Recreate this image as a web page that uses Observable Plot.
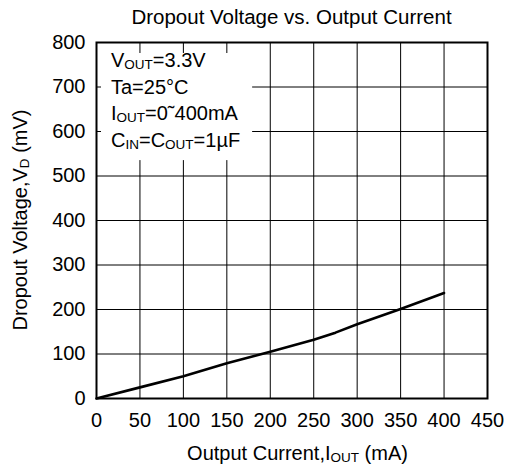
<!DOCTYPE html>
<html>
<head>
<meta charset="utf-8">
<script src="https://cdn.jsdelivr.net/npm/d3@7"></script>
<script src="https://cdn.jsdelivr.net/npm/@observablehq/plot@0.6"></script>
<style>
  html, body { margin: 0; padding: 0; background: #fff; }
  svg text { font-family: "Liberation Sans", Arial, Helvetica, sans-serif; }
</style>
</head>
<body>
<div id="chart"></div>
<script>
// Dropout voltage (mV) measured against output current (mA)
const currentMA = [0, 50, 100, 150, 200, 250, 275, 300, 350, 400];
const dropoutMV = [0, 25, 50, 79, 105, 132, 148, 167, 201, 237];

// Axis ticks
const xTicks = [0, 50, 100, 150, 200, 250, 300, 350, 400, 450];
const yTicks = [0, 100, 200, 300, 400, 500, 600, 700, 800];

// Texts; each part is [text, isSubscript]
const titleText = "Dropout Voltage vs. Output Current";
const xLabelParts = [["Output Current,I", false], ["OUT", true], [" (mA)", false]];
const yLabelParts = [["Dropout Voltage,V", false], ["D", true], [" (mV)", false]];
const conditionLines = [
  [["V", false], ["OUT", true], ["=3.3V", false]],
  [["Ta=25°C", false]],
  [["I", false], ["OUT", true], ["=0˜400mA", false]],
  [["C", false], ["IN", true], ["=C", false], ["OUT", true], ["=1µF", false]]
];

const points = currentMA.map((c, i) => ({current: c, dropout: dropoutMV[i]}));

const FONT = 20;
const SUB = 13.5;

const plot = Plot.plot({
  width: 505,
  height: 472,
  marginLeft: 96,
  marginRight: 18,
  marginTop: 42,
  marginBottom: 74,
  style: {fontSize: FONT + "px", color: "#000", background: "#fff", overflow: "visible"},
  x: {domain: [0, 450]},
  y: {domain: [0, 800]},
  marks: [
    Plot.gridX(xTicks.slice(1, -1), {stroke: "#000", strokeOpacity: 1, strokeWidth: 1}),
    Plot.gridY(yTicks.slice(1, -1), {stroke: "#000", strokeOpacity: 1, strokeWidth: 1}),
    Plot.axisX(xTicks, {tickSize: 0, tickPadding: 14, label: null, fontSize: FONT}),
    Plot.axisY(yTicks, {tickSize: 0, tickPadding: 11, label: null, fontSize: FONT}),
    Plot.line(points, {x: "current", y: "dropout", stroke: "#000", strokeWidth: 2.6}),
    Plot.frame({stroke: "#000", strokeWidth: 2})
  ]
});
document.getElementById("chart").appendChild(plot);

const svg = d3.select(plot);
const xs = plot.scale("x"), ys = plot.scale("y");
const plotLeft = xs.apply(0), plotRight = xs.apply(450);
const plotTop = ys.apply(800), plotBottom = ys.apply(0);

// Writes text parts into a <text>, lowering and shrinking subscripts
function writeParts(textSel, parts) {
  let shifted = false;
  for (const [t, sub] of parts) {
    const ts = textSel.append("tspan").text(t);
    if (sub) {
      ts.attr("font-size", SUB);
      if (!shifted) { ts.attr("dy", 2); shifted = true; }
    } else if (shifted) {
      ts.attr("dy", -2); shifted = false;
    }
  }
}

const labels = svg.append("g").attr("fill", "#000").attr("font-size", FONT);

// Title
labels.append("text")
  .attr("x", (plotLeft + plotRight) / 2)
  .attr("y", 24)
  .attr("text-anchor", "middle")
  .attr("font-size", 20.5)
  .text(titleText);

// X axis label
writeParts(labels.append("text")
  .attr("x", (plotLeft + plotRight) / 2 + 6)
  .attr("y", 460)
  .attr("text-anchor", "middle"), xLabelParts);

// Y axis label
writeParts(labels.append("text")
  .attr("transform", `translate(27,${(plotTop + plotBottom) / 2}) rotate(-90)`)
  .attr("text-anchor", "middle"), yLabelParts);

// Test conditions box in the upper-left corner
const box = svg.append("g");
const boxRect = box.append("rect").attr("fill", "#fff");
const boxText = box.append("g")
  .attr("fill", "#000")
  .attr("font-size", FONT)
  .attr("text-anchor", "start");
conditionLines.forEach((parts, i) => {
  writeParts(boxText.append("text")
    .attr("x", plotLeft + 15)
    .attr("y", plotTop + 25 + i * 26.7), parts);
});
const bb = boxText.node().getBBox();
boxRect
  .attr("x", bb.x - 10)
  .attr("y", bb.y + 4)
  .attr("width", bb.width + 22)
  .attr("height", bb.height + 4);

// Keep the frame on top of the box
const frame = plot.querySelector('[aria-label="frame"]');
if (frame) plot.appendChild(frame);
</script>
</body>
</html>
